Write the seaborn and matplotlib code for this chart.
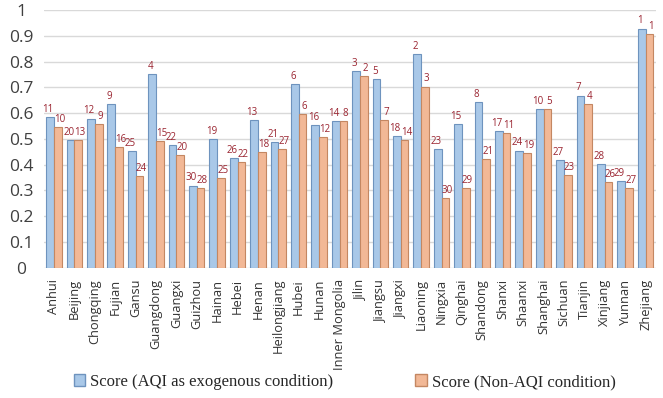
import matplotlib
matplotlib.use("Agg")
import matplotlib.pyplot as plt
import seaborn as sns
import pandas as pd
import numpy as np
from matplotlib.patches import Patch

provinces = ["Anhui", "Beijing", "Chongqing", "Fujian", "Gansu", "Guangdong", "Guangxi",
             "Guizhou", "Hainan", "Hebei", "Henan", "Heilongjiang", "Hubei", "Hunan",
             "Inner Mongolia", "Jilin", "Jiangsu", "Jiangxi", "Liaoning", "Ningxia",
             "Qinghai", "Shandong", "Shanxi", "Shaanxi", "Shanghai", "Sichuan", "Tianjin",
             "Xinjiang", "Yunnan", "Zhejiang"]
score_aqi = [0.585, 0.497, 0.579, 0.635, 0.454, 0.752, 0.475, 0.319, 0.500, 0.426,
             0.574, 0.488, 0.712, 0.552, 0.569, 0.764, 0.733, 0.510, 0.828, 0.461,
             0.556, 0.644, 0.532, 0.455, 0.617, 0.418, 0.668, 0.401, 0.335, 0.928]
score_non = [0.546, 0.497, 0.556, 0.467, 0.355, 0.492, 0.436, 0.310, 0.348, 0.410,
             0.448, 0.462, 0.596, 0.506, 0.569, 0.745, 0.574, 0.497, 0.703, 0.270,
             0.310, 0.422, 0.523, 0.445, 0.617, 0.360, 0.635, 0.334, 0.310, 0.905]
rank_aqi = [11, 20, 12, 9, 25, 4, 22, 30, 19, 26, 13, 21, 6, 16, 14, 3, 5, 18, 2, 23,
            15, 8, 17, 24, 10, 27, 7, 28, 29, 1]
rank_non = [10, 13, 9, 16, 24, 15, 20, 28, 25, 22, 18, 27, 6, 12, 8, 2, 7, 14, 3, 30,
            29, 21, 11, 19, 5, 23, 4, 26, 27, 1]
series = ["Score (AQI as exogenous condition)", "Score (Non-AQI condition)"]

df = pd.DataFrame({
    "Province": provinces * 2,
    "Score": score_aqi + score_non,
    "Rank": rank_aqi + rank_non,
    "Series": [series[0]] * len(provinces) + [series[1]] * len(provinces),
})

fills = ["#A9C8E8", "#F2B896"]
edges = ["#6E93BE", "#C48762"]

sns.set_style("white")
fig = plt.figure(figsize=(6.63, 3.98), dpi=100)
ax = fig.add_axes([0.066, 0.327, 0.923, 0.648])

sns.barplot(data=df, x="Province", y="Score", hue="Series", palette=fills,
            width=0.76, ax=ax, legend=False, saturation=1)

for i, cont in enumerate(ax.containers):
    ranks = rank_aqi if i == 0 else rank_non
    dx = -1.3 if i == 0 else 1.3
    for bar, r in zip(cont, ranks):
        bar.set_edgecolor(edges[i])
        bar.set_linewidth(0.8)
        ax.annotate(str(r), (bar.get_x() + bar.get_width() / 2, bar.get_height()),
                    xytext=(dx, 1.5), textcoords="offset points", ha="center", va="bottom",
                    color="#9A2430", fontsize=7, fontfamily="Open Sans")

ax.set_ylim(0, 1)
ax.set_xlim(-0.5, len(provinces) - 0.5)
ax.set_yticks(np.arange(0, 1.01, 0.1))
ax.set_yticklabels(["0", "0.1", "0.2", "0.3", "0.4", "0.5", "0.6", "0.7", "0.8", "0.9", "1"],
                   fontsize=12.5, color="#404040", fontfamily="Open Sans")
for t in ax.get_yticklabels():
    t.set_horizontalalignment("center")
ax.yaxis.grid(True, color="#D9D9D9", linewidth=1)
ax.set_axisbelow(True)
for s in ax.spines.values():
    s.set_visible(False)
ax.tick_params(axis="both", length=0)
ax.tick_params(axis="y", pad=16)
ax.tick_params(axis="x", pad=8)
ax.set_xticks(range(len(provinces)))
ax.set_xticklabels(provinces, rotation=90, fontsize=9.3, color="#333333",
                   fontfamily="Open Sans")
ax.set_xlabel("")
ax.set_ylabel("")

handles = [Patch(facecolor=fills[k], edgecolor=edges[k], label=series[k]) for k in range(2)]
fig.legend(handles=handles, loc="center", bbox_to_anchor=(0.52, 0.04), ncol=2,
           frameon=False, prop={"family": "Liberation Serif", "size": 12},
           handlelength=0.7, handleheight=0.7, handletextpad=0.3, columnspacing=4.9)

fig.savefig("out.png", dpi=100, facecolor="white")
